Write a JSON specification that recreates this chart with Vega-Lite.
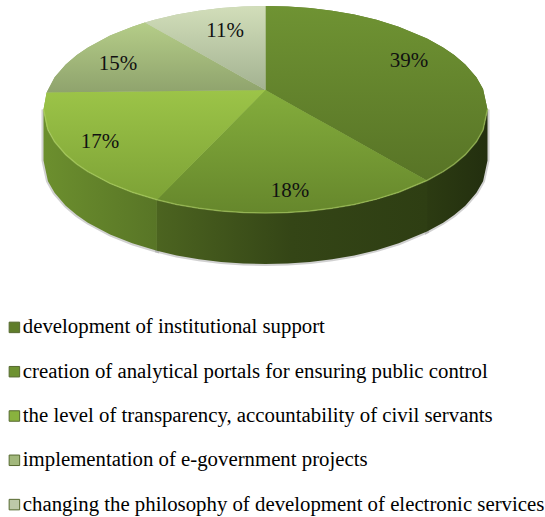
{"$schema":"https://vega.github.io/schema/vega-lite/v6.json","width":545,"height":517,"padding":0,"autosize":"none","background":"white","view":{"stroke":null},
"config":{"font":"Liberation Serif"},
"datasets":{
"wall":[
{"part":"a","x":-1,"y":0,"y2":-0.493},{"part":"a","x":-0.98,"y":-0.199,"y2":-0.692},{"part":"a","x":-0.95,"y":-0.312,"y2":-0.805},{"part":"a","x":-0.9,"y":-0.436,"y2":-0.929},{"part":"a","x":-0.85,"y":-0.527,"y2":-1.02},{"part":"a","x":-0.8,"y":-0.6,"y2":-1.093},{"part":"a","x":-0.7,"y":-0.714,"y2":-1.207},{"part":"a","x":-0.6,"y":-0.8,"y2":-1.293},{"part":"a","x":-0.489,"y":-0.872,"y2":-1.365},
{"part":"b","x":-0.489,"y":-0.872,"y2":-1.365},{"part":"b","x":-0.4,"y":-0.917,"y2":-1.41},{"part":"b","x":-0.3,"y":-0.954,"y2":-1.447},{"part":"b","x":-0.2,"y":-0.98,"y2":-1.473},{"part":"b","x":-0.1,"y":-0.995,"y2":-1.488},{"part":"b","x":0,"y":-1,"y2":-1.493},{"part":"b","x":0.1,"y":-0.995,"y2":-1.488},{"part":"b","x":0.2,"y":-0.98,"y2":-1.473},{"part":"b","x":0.3,"y":-0.954,"y2":-1.447},{"part":"b","x":0.4,"y":-0.917,"y2":-1.41},{"part":"b","x":0.5,"y":-0.866,"y2":-1.359},{"part":"b","x":0.6,"y":-0.8,"y2":-1.293},{"part":"b","x":0.7275,"y":-0.686,"y2":-1.179},
{"part":"c","x":0.7275,"y":-0.686,"y2":-1.179},{"part":"c","x":0.8,"y":-0.6,"y2":-1.093},{"part":"c","x":0.85,"y":-0.527,"y2":-1.02},{"part":"c","x":0.9,"y":-0.436,"y2":-0.929},{"part":"c","x":0.95,"y":-0.312,"y2":-0.805},{"part":"c","x":0.98,"y":-0.199,"y2":-0.692},{"part":"c","x":1,"y":0,"y2":-0.493}],
"top":[
{"c":"development of institutional support","x":0,"y":1,"y2":0.188},{"c":"development of institutional support","x":0.1,"y":0.995,"y2":0.068},{"c":"development of institutional support","x":0.2,"y":0.98,"y2":-0.052},{"c":"development of institutional support","x":0.3,"y":0.954,"y2":-0.172},{"c":"development of institutional support","x":0.4,"y":0.917,"y2":-0.293},{"c":"development of institutional support","x":0.5,"y":0.866,"y2":-0.413},{"c":"development of institutional support","x":0.6,"y":0.8,"y2":-0.533},{"c":"development of institutional support","x":0.7275,"y":0.686,"y2":-0.686},{"c":"development of institutional support","x":0.8,"y":0.6,"y2":-0.6},{"c":"development of institutional support","x":0.85,"y":0.527,"y2":-0.527},{"c":"development of institutional support","x":0.9,"y":0.436,"y2":-0.436},{"c":"development of institutional support","x":0.95,"y":0.312,"y2":-0.312},{"c":"development of institutional support","x":0.98,"y":0.199,"y2":-0.199},{"c":"development of institutional support","x":1,"y":0,"y2":0},
{"c":"creation of analytical portals for ensuring public control","x":-0.489,"y":-0.872,"y2":-0.872},{"c":"creation of analytical portals for ensuring public control","x":-0.4,"y":-0.679,"y2":-0.917},{"c":"creation of analytical portals for ensuring public control","x":-0.3,"y":-0.462,"y2":-0.954},{"c":"creation of analytical portals for ensuring public control","x":-0.2,"y":-0.246,"y2":-0.98},{"c":"creation of analytical portals for ensuring public control","x":-0.1,"y":-0.029,"y2":-0.995},{"c":"creation of analytical portals for ensuring public control","x":0,"y":0.188,"y2":-1},{"c":"creation of analytical portals for ensuring public control","x":0.1,"y":0.068,"y2":-0.995},{"c":"creation of analytical portals for ensuring public control","x":0.2,"y":-0.052,"y2":-0.98},{"c":"creation of analytical portals for ensuring public control","x":0.3,"y":-0.172,"y2":-0.954},{"c":"creation of analytical portals for ensuring public control","x":0.4,"y":-0.293,"y2":-0.917},{"c":"creation of analytical portals for ensuring public control","x":0.5,"y":-0.413,"y2":-0.866},{"c":"creation of analytical portals for ensuring public control","x":0.6,"y":-0.533,"y2":-0.8},{"c":"creation of analytical portals for ensuring public control","x":0.7275,"y":-0.686,"y2":-0.686},
{"c":"the level of transparency, accountability of civil servants","x":-1,"y":0,"y2":0},{"c":"the level of transparency, accountability of civil servants","x":-0.986,"y":0.165,"y2":-0.165},{"c":"the level of transparency, accountability of civil servants","x":-0.95,"y":0.166,"y2":-0.312},{"c":"the level of transparency, accountability of civil servants","x":-0.9,"y":0.167,"y2":-0.436},{"c":"the level of transparency, accountability of civil servants","x":-0.85,"y":0.168,"y2":-0.527},{"c":"the level of transparency, accountability of civil servants","x":-0.8,"y":0.169,"y2":-0.6},{"c":"the level of transparency, accountability of civil servants","x":-0.7,"y":0.172,"y2":-0.714},{"c":"the level of transparency, accountability of civil servants","x":-0.6,"y":0.174,"y2":-0.8},{"c":"the level of transparency, accountability of civil servants","x":-0.489,"y":0.177,"y2":-0.872},{"c":"the level of transparency, accountability of civil servants","x":-0.4,"y":0.179,"y2":-0.679},{"c":"the level of transparency, accountability of civil servants","x":-0.3,"y":0.181,"y2":-0.462},{"c":"the level of transparency, accountability of civil servants","x":-0.2,"y":0.183,"y2":-0.246},{"c":"the level of transparency, accountability of civil servants","x":-0.1,"y":0.186,"y2":-0.029},{"c":"the level of transparency, accountability of civil servants","x":0,"y":0.188,"y2":0.188},
{"c":"implementation of e-government projects","x":-0.986,"y":0.165,"y2":0.165},{"c":"implementation of e-government projects","x":-0.95,"y":0.312,"y2":0.166},{"c":"implementation of e-government projects","x":-0.9,"y":0.436,"y2":0.167},{"c":"implementation of e-government projects","x":-0.85,"y":0.527,"y2":0.168},{"c":"implementation of e-government projects","x":-0.8,"y":0.6,"y2":0.169},{"c":"implementation of e-government projects","x":-0.7,"y":0.714,"y2":0.172},{"c":"implementation of e-government projects","x":-0.6,"y":0.8,"y2":0.174},{"c":"implementation of e-government projects","x":-0.543,"y":0.84,"y2":0.175},{"c":"implementation of e-government projects","x":-0.4,"y":0.668,"y2":0.179},{"c":"implementation of e-government projects","x":-0.3,"y":0.548,"y2":0.181},{"c":"implementation of e-government projects","x":-0.2,"y":0.428,"y2":0.183},{"c":"implementation of e-government projects","x":-0.1,"y":0.308,"y2":0.186},{"c":"implementation of e-government projects","x":0,"y":0.188,"y2":0.188},
{"c":"changing the philosophy of development of electronic services","x":-0.543,"y":0.84,"y2":0.84},{"c":"changing the philosophy of development of electronic services","x":-0.5,"y":0.866,"y2":0.788},{"c":"changing the philosophy of development of electronic services","x":-0.4,"y":0.917,"y2":0.668},{"c":"changing the philosophy of development of electronic services","x":-0.3,"y":0.954,"y2":0.548},{"c":"changing the philosophy of development of electronic services","x":-0.2,"y":0.98,"y2":0.428},{"c":"changing the philosophy of development of electronic services","x":-0.1,"y":0.995,"y2":0.308},{"c":"changing the philosophy of development of electronic services","x":0,"y":1,"y2":0.188}],
"labels":[{"t":"39%","x":0.646,"y":0.469},{"t":"18%","x":0.11,"y":-0.792},{"t":"17%","x":-0.745,"y":-0.314},{"t":"15%","x":-0.664,"y":0.44},{"t":"11%","x":-0.182,"y":0.758}]},
"encoding":{"x":{"field":"x","type":"quantitative","axis":null,"scale":{"domain":[-1.196,1.259]}},"y":{"field":"y","type":"quantitative","axis":null,"scale":{"domain":[-3.937,1.058]}}},
"layer":[
{"data":{"name":"wall"},"mark":{"type":"area","fill":"#8a8a8a","stroke":"#9a9a9a","strokeWidth":4,"opacity":0.45,"orient":"vertical"},"encoding":{"y2":{"field":"y2"},"detail":{"field":"part"}}},
{"data":{"name":"wall"},"transform":[{"filter":"datum.part==='a'"}],"mark":{"type":"area","orient":"vertical","fill":{"gradient":"linear","x1":0,"y1":0,"x2":1,"y2":0,"stops":[{"offset":0,"color":"#6c8f2e"},{"offset":1,"color":"#587526"}]}},"encoding":{"y2":{"field":"y2"}}},
{"data":{"name":"wall"},"transform":[{"filter":"datum.part==='b'"}],"mark":{"type":"area","orient":"vertical","fill":{"gradient":"linear","x1":0,"y1":0,"x2":1,"y2":0,"stops":[{"offset":0,"color":"#4c6420"},{"offset":0.5,"color":"#344516"},{"offset":1,"color":"#2e3e13"}]}},"encoding":{"y2":{"field":"y2"}}},
{"data":{"name":"wall"},"transform":[{"filter":"datum.part==='c'"}],"mark":{"type":"area","orient":"vertical","fill":{"gradient":"linear","x1":0,"y1":0,"x2":1,"y2":0,"stops":[{"offset":0,"color":"#2c3b12"},{"offset":1,"color":"#232f0f"}]}},"encoding":{"y2":{"field":"y2"}}},
{"data":{"name":"top"},"mark":{"type":"area","orient":"vertical"},"encoding":{"y2":{"field":"y2"},"fill":{"field":"c","type":"nominal","sort":null,"scale":{"domain":["development of institutional support","creation of analytical portals for ensuring public control","the level of transparency, accountability of civil servants","implementation of e-government projects","changing the philosophy of development of electronic services"],"range":["#5f7d2a","#6e9231","#89b23e","#a2b87c","#bcc9a8"]},
"legend":{"title":null,"orient":"none","legendX":4,"legendY":317,"symbolType":"square","symbolSize":110,"symbolStrokeColor":"#55682f","symbolStrokeWidth":1,"labelFont":"Liberation Serif","labelFontSize":20.8,"labelColor":"#000000","labelLimit":600,"labelOffset":-2,"rowPadding":22.3,"padding":0}}}},
{"data":{"name":"top"},"transform":[{"filter":"indexof(datum.c,'development')===0"}],"mark":{"type":"area","orient":"vertical","fill":{"gradient":"linear","x1":0,"y1":0,"x2":0,"y2":1,"stops":[{"offset":0,"color":"#6f9333"},{"offset":1,"color":"#587426"}]}},"encoding":{"y2":{"field":"y2"}}},
{"data":{"name":"top"},"transform":[{"filter":"indexof(datum.c,'creation')===0"}],"mark":{"type":"area","orient":"vertical","fill":{"gradient":"linear","x1":0,"y1":0,"x2":0,"y2":1,"stops":[{"offset":0,"color":"#84ad3c"},{"offset":1,"color":"#66872c"}]}},"encoding":{"y2":{"field":"y2"}}},
{"data":{"name":"top"},"transform":[{"filter":"indexof(datum.c,'the level')===0"}],"mark":{"type":"area","orient":"vertical","fill":{"gradient":"linear","x1":0,"y1":0,"x2":0,"y2":1,"stops":[{"offset":0,"color":"#9cc448"},{"offset":1,"color":"#7da236"}]}},"encoding":{"y2":{"field":"y2"}}},
{"data":{"name":"top"},"transform":[{"filter":"indexof(datum.c,'implementation')===0"}],"mark":{"type":"area","orient":"vertical","fill":{"gradient":"linear","x1":0,"y1":0,"x2":0,"y2":1,"stops":[{"offset":0,"color":"#b5cd88"},{"offset":1,"color":"#8fa36d"}]}},"encoding":{"y2":{"field":"y2"}}},
{"data":{"name":"top"},"transform":[{"filter":"indexof(datum.c,'changing')===0"}],"mark":{"type":"area","orient":"vertical","fill":{"gradient":"linear","x1":0,"y1":0,"x2":0,"y2":1,"stops":[{"offset":0,"color":"#d2deba"},{"offset":1,"color":"#a3b291"}]}},"encoding":{"y2":{"field":"y2"}}},
{"data":{"name":"wall"},"mark":{"type":"line","stroke":"#b7d96c","strokeWidth":1.5,"opacity":0.5},"encoding":{"detail":{"field":"part"}}},
{"data":{"name":"labels"},"mark":{"type":"text","font":"Liberation Serif","fontSize":21,"color":"#111111"},"encoding":{"text":{"field":"t"}}}
]}
